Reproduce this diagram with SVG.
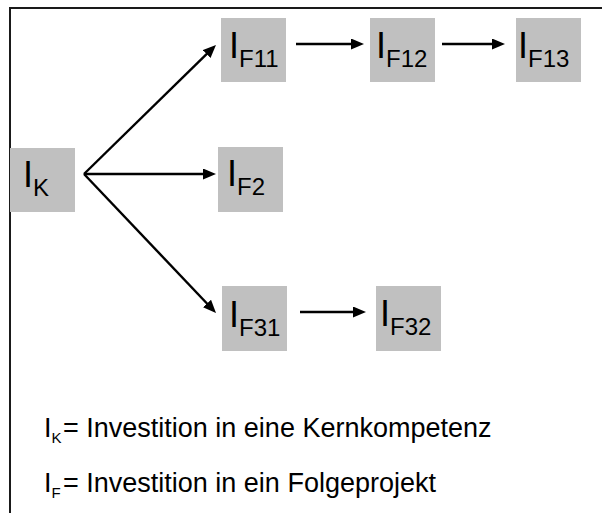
<svg xmlns="http://www.w3.org/2000/svg" width="602" height="513" viewBox="0 0 602 513">
  <style>
    .box { fill: #c0c0c0; }
    .lbl { font-family: "Liberation Sans", Arial, sans-serif; font-size: 36px; fill: #000; }
    .sub { font-size: 24px; }
    .leg { font-family: "Liberation Sans", Arial, sans-serif; font-size: 27px; fill: #000; }
    .legsub { font-size: 15px; }
    .edge { stroke: #000; stroke-width: 2.4; fill: none; marker-end: url(#head); }
    .frame { stroke: #1a1a1a; stroke-width: 2; fill: none; }
  </style>
  <defs>
    <!-- filled arrowhead; line ends 11px before the tip -->
    <marker id="head" markerUnits="userSpaceOnUse" markerWidth="13" markerHeight="11" viewBox="0 0 13 11" refX="2" refY="5.5" orient="auto">
      <path d="M0,0 L13,5.5 L0,11 z" fill="#000"/>
    </marker>
  </defs>

  <rect width="602" height="513" fill="#fff"/>
  <path class="frame" d="M10,513 V8 H602"/>

  <g id="IK">
    <rect class="box" x="10" y="148" width="65" height="64"/>
    <text class="lbl" x="23" y="187">I<tspan class="sub" dy="9">K</tspan></text>
  </g>
  <g id="IF11">
    <rect class="box" x="221" y="18" width="65" height="64"/>
    <text class="lbl" x="229" y="58">I<tspan class="sub" dy="9">F11</tspan></text>
  </g>
  <g id="IF12">
    <rect class="box" x="370" y="18" width="65" height="64"/>
    <text class="lbl" x="376" y="58">I<tspan class="sub" dy="9">F12</tspan></text>
  </g>
  <g id="IF13">
    <rect class="box" x="516" y="18" width="65" height="64"/>
    <text class="lbl" x="518" y="58">I<tspan class="sub" dy="9">F13</tspan></text>
  </g>
  <g id="IF2">
    <rect class="box" x="218" y="147" width="65" height="65"/>
    <text class="lbl" x="227" y="186">I<tspan class="sub" dy="9">F2</tspan></text>
  </g>
  <g id="IF31">
    <rect class="box" x="222" y="286" width="65" height="65"/>
    <text class="lbl" x="229" y="327">I<tspan class="sub" dy="9">F31</tspan></text>
  </g>
  <g id="IF32">
    <rect class="box" x="376" y="286" width="65" height="65"/>
    <text class="lbl" x="380" y="326">I<tspan class="sub" dy="9">F32</tspan></text>
  </g>

  <g id="connectors">
    <line class="edge" x1="84" y1="174" x2="208.1" y2="52.7"/>
    <line class="edge" x1="84" y1="174" x2="205" y2="174"/>
    <line class="edge" x1="84" y1="174" x2="208.4" y2="305"/>
    <line class="edge" x1="296" y1="44" x2="353" y2="44"/>
    <line class="edge" x1="442" y1="44" x2="494" y2="44"/>
    <line class="edge" x1="300" y1="312" x2="355" y2="312"/>
  </g>

  <g id="legend">
    <text class="leg" x="44" y="437">I<tspan class="legsub" dy="6">K</tspan><tspan x="63" y="437">= Investition in eine Kernkompetenz</tspan></text>
    <text class="leg" x="44" y="492">I<tspan class="legsub" dy="6">F</tspan><tspan x="63" y="492">= Investition in ein Folgeprojekt</tspan></text>
  </g>
</svg>
